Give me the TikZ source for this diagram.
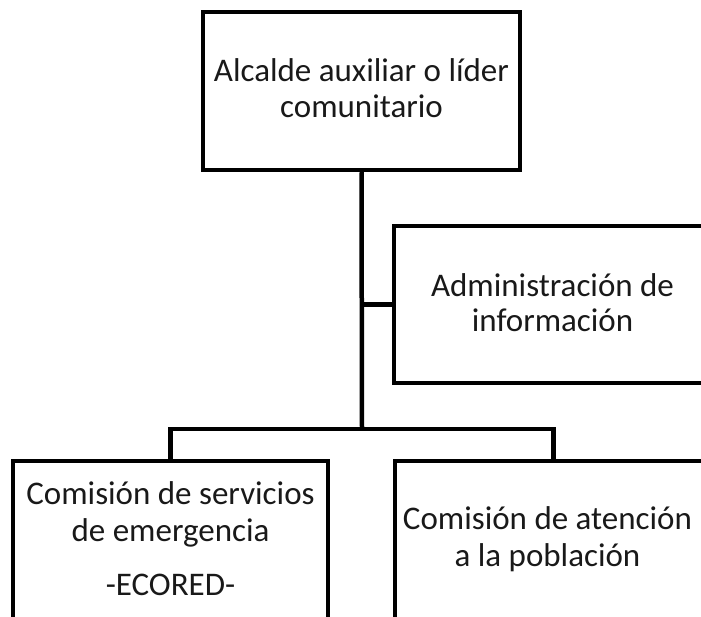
\documentclass[tikz,border=0pt]{standalone}
\usepackage{fontspec}
\setmainfont{Carlito}
\begin{document}
\begin{tikzpicture}[x=1pt,y=-1pt,
  box/.style={draw=black,line width=4.5pt,rectangle,inner sep=0pt},
  conn/.style={draw=black,line width=4.5pt},
  txt/.style={anchor=base,inner sep=0pt,text=black!90,font=\fontsize{33}{37}\selectfont}]
\useasboundingbox (0,0) rectangle (701,617);
\clip (0,0) rectangle (701,617);
\node[box,minimum width=317pt,minimum height=158pt] (top) at (361.5,91) {};
\node[box,minimum width=318pt,minimum height=157pt] (admin) at (553,304.5) {};
\node[box,minimum width=315pt,minimum height=180pt] (bl) at (170.5,551) {};
\node[box,minimum width=317pt,minimum height=180pt] (br) at (553.5,551) {};
\coordinate (bus) at (362,429);
\draw[conn] (top.south) -- (bus);
\draw[conn] (top.south |- admin.west) -- (admin.west);
\draw[conn] (bl.north) |- (bus) -| (br.north);
\node[txt] (t1) at (361.5,82) {Alcalde auxiliar o líder};
\node[txt] (t2) at (361.5,118) {comunitario};
\node[txt] (a1) at (552.5,297) {Administración de};
\node[txt] (a2) at (552.5,332) {información};
\node[txt] (l1) at (170.5,504) {Comisión de servicios};
\node[txt] (l2) at (170.5,541) {de emergencia};
\node[txt] (l3) at (170.5,595) {-ECORED-};
\node[txt] (r1) at (547.5,529) {Comisión de atención};
\node[txt] (r2) at (547.5,566) {a la población};
\end{tikzpicture}
\end{document}
